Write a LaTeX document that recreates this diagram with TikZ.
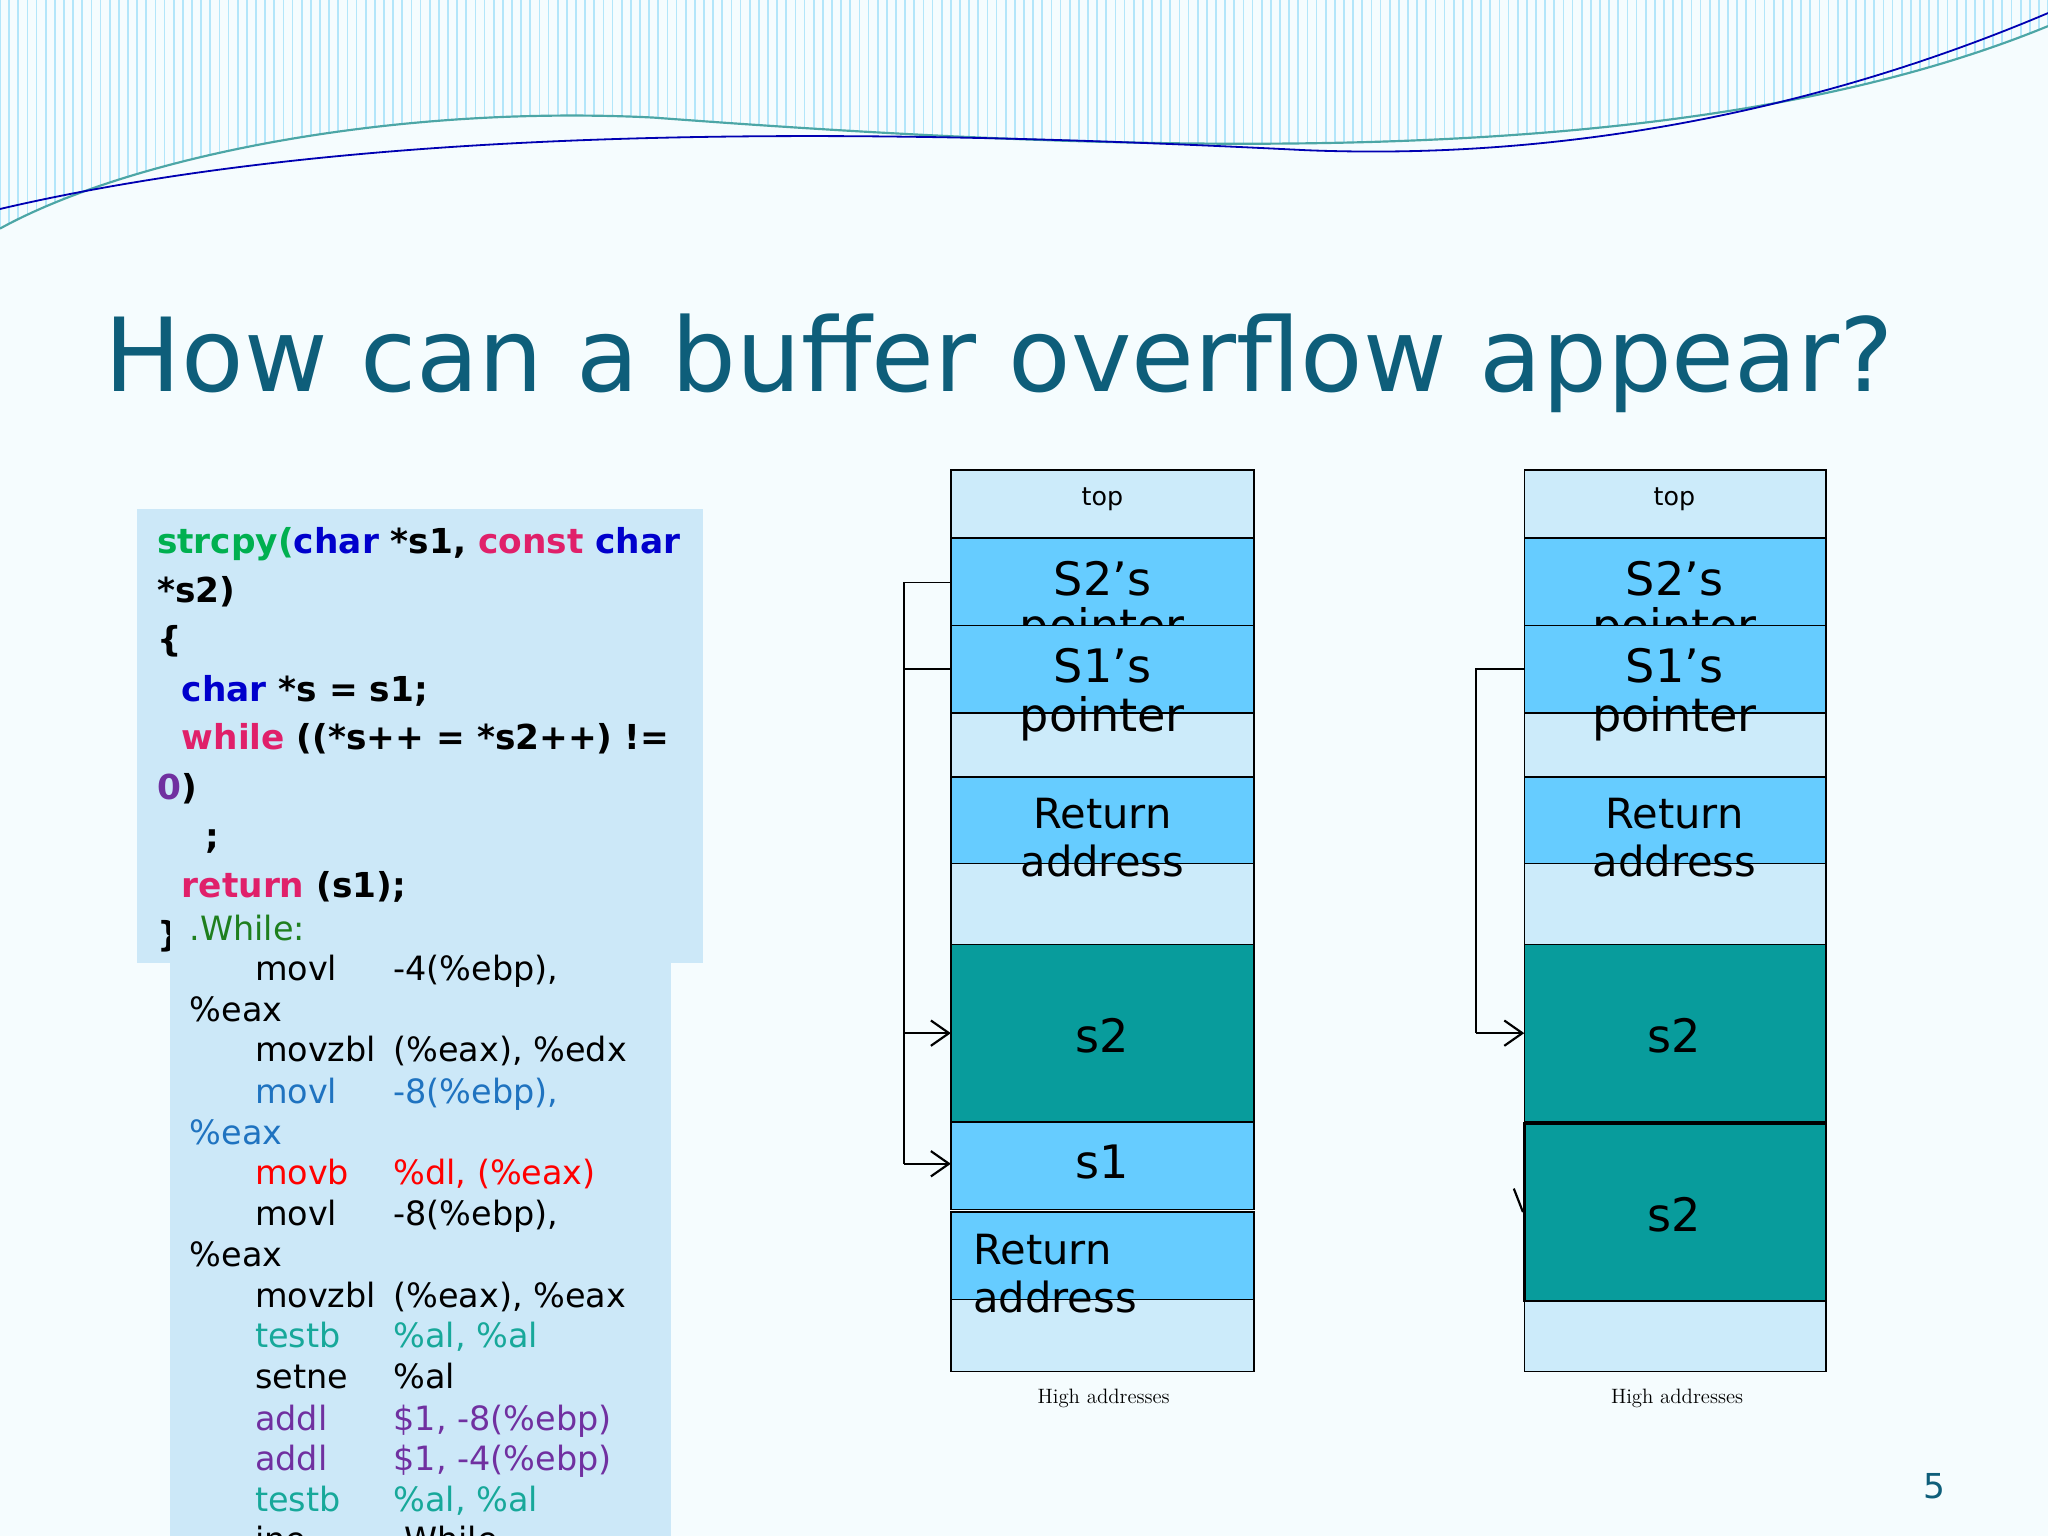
\documentclass[tikz,border=0pt]{standalone}
\usepackage{fontspec}
\setmainfont{DejaVu Sans}
\usetikzlibrary{arrows.meta}
\definecolor{ttl}{HTML}{0E5E7A}
\definecolor{lb}{HTML}{CCEBFA}
\definecolor{mb}{HTML}{66CCFF}
\definecolor{dk}{HTML}{089C9C}
\definecolor{cbox}{HTML}{CCE8F8}
\definecolor{cg}{HTML}{00B050}
\definecolor{cbl}{HTML}{0000CC}
\definecolor{cmg}{HTML}{E0206A}
\definecolor{cpu}{HTML}{7030A0}
\definecolor{cwg}{HTML}{1E7F1E}
\definecolor{cbb}{HTML}{1F73C0}
\definecolor{ctl}{HTML}{17A89A}
\tikzset{
 cl/.style={anchor=base west,inner sep=0,font=\fontsize{19pt}{19pt}\selectfont\bfseries},
 al/.style={anchor=base west,inner sep=0,font=\fontsize{18.5pt}{18pt}\selectfont},
 big/.style={inner sep=0,font=\fontsize{25.5pt}{25pt}\selectfont},
 mid/.style={inner sep=0,font=\fontsize{23pt}{23pt}\selectfont},
 cell/.style={draw=black,line width=0.8pt},
 ptr/.style={line width=1pt,-{Straight Barb[length=10pt,width=14pt,line width=1.2pt]}},
 hi/.style={inner sep=0,font=\fontfamily{lmr}\fontsize{11.5pt}{12pt}\selectfont}
}
\begin{document}
\begin{tikzpicture}[x=0.01in,y=-0.01in]
\useasboundingbox (0,0) rectangle (1568,1176);
\fill[white!96!cyan] (0,0) rectangle (1568,1176);
\begin{scope}
\clip (0,0) -- (1568,0) -- (1568,20) .. controls (1300,130) and (900,120) .. (500,90) .. controls (300,80) and (100,120) .. (0,175) -- cycle;
\foreach \i in {0,7,...,1568}{\draw[cyan!30!white,line width=1pt] (\i,0) -- (\i,180);}
\end{scope}
\draw[teal!70,line width=1.2pt] (0,175) .. controls (100,120) and (300,80) .. (500,90) .. controls (900,120) and (1300,130) .. (1568,20);
\draw[blue!70!black,line width=1pt] (0,160) .. controls (300,90) and (700,100) .. (1000,115) .. controls (1250,125) and (1450,60) .. (1568,10);
\node[anchor=base west,inner sep=0,text=ttl,font=\fontsize{56.5pt}{57pt}\selectfont] (title) at (80,300) {How can a buffer overflow appear?};
% code box 1
\fill[cbox] (105,390) rectangle (538,737);
\node[cl] (c1) at (120,424) {\textcolor{cg}{strcpy(}\textcolor{cbl}{char} *s1, \textcolor{cmg}{const} \textcolor{cbl}{char}};
\node[cl] (c2) at (120,461) {*s2)};
\node[cl] (c3) at (120,499) {\{};
\node[cl] (c4) at (139,537) {\textcolor{cbl}{char} *s = s1;};
\node[cl] (c5) at (139,574) {\textcolor{cmg}{while} ((*s++ = *s2++) !=};
\node[cl] (c6) at (120,612) {\textcolor{cpu}{0})};
\node[cl] (c7) at (157,650) {;};
\node[cl] (c8) at (139,687) {\textcolor{cmg}{return} (s1);};
\node[cl] (c9) at (120,725) {\}};
% code box 2
\fill[cbox] (130,737) rectangle (514,1176);
\fill[cbox] (130,700) rectangle (240,737);
\node[al,text=cwg] (a0) at (145,720) {.While:};
\foreach \y/\opa/\opb/\colr in {751/movl/{-4(\%ebp),}/black,813/movzbl/{(\%eax), \%edx}/black,845/movl/{-8(\%ebp),}/cbb,907/movb/{\%dl, (\%eax)}/red,938/movl/{-8(\%ebp),}/black,1001/movzbl/{(\%eax), \%eax}/black,1032/testb/{\%al, \%al}/ctl,1063/setne/{\%al}/black,1095/addl/{\$1, -8(\%ebp)}/cpu,1126/addl/{\$1, -4(\%ebp)}/cpu,1157/testb/{\%al, \%al}/ctl,1188/jne/{.While}/black}{
 \node[al,text=\colr] at (195,\y) {\opa};
 \node[al,text=\colr] at (301,\y) {\opb};
}
\node[al] (e1) at (145,782) {\%eax};
\node[al,text=cbb] (e2) at (145,876) {\%eax};
\node[al] (e3) at (145,970) {\%eax};
% stack 1
\def\xa{728}\def\xb{960}\def\xm{844}
\draw[cell,fill=lb] (\xa,360) rectangle (\xb,412);
\node[inner sep=0,font=\fontsize{14pt}{14pt}\selectfont] (t1) at (\xm,382) {top};
\draw[cell,fill=mb] (\xa,412) rectangle (\xb,479);
\node[big] (p21) at (\xm,443) {S2’s};
\node[big] at (\xm,482) {pointer};
\draw[cell,fill=lb] (\xa,546) rectangle (\xb,595);
\draw[cell,fill=mb] (\xa,479) rectangle (\xb,546);
\node[big] (p11) at (\xm,510) {S1’s};
\node[big] at (\xm,550) {pointer};
\draw[cell,fill=lb] (\xa,661) rectangle (\xb,723);
\draw[cell,fill=mb] (\xa,595) rectangle (\xb,661);
\node[mid] (r1) at (\xm,623) {Return};
\node[mid] at (\xm,659) {address};
\draw[cell,fill=dk] (\xa,723) rectangle (\xb,859);
\node[big] (s21) at (\xm,793) {s2};
\draw[cell,fill=mb] (\xa,859) rectangle (\xb,926);
\node[big] (s11) at (\xm,890) {s1};
\draw[cell,fill=lb] (\xa,995) rectangle (\xb,1050);
\draw[cell,fill=mb] (\xa,928) rectangle (\xb,995);
\node[mid,anchor=west] (r2) at (745,957) {Return};
\node[mid,anchor=west] at (745,993) {address};
\node[hi] (h1) at (845,1071) {High addresses};
\coordinate (a1) at (\xa,446); \coordinate (a1b) at (692,446);
\coordinate (a2) at (\xa,512); \coordinate (a2b) at (692,512);
\draw[line width=1pt] (a1) -- (a1b) -- (692,791);
\draw[ptr] (692,791) -- (\xa,791);
\draw[line width=1pt] (a2) -- (a2b) -- (692,891);
\draw[ptr] (692,891) -- (\xa,891);
% stack 2
\def\xa{1167}\def\xb{1398}\def\xm{1282}
\draw[cell,fill=lb] (\xa,360) rectangle (\xb,412);
\node[inner sep=0,font=\fontsize{14pt}{14pt}\selectfont] (t2) at (\xm,382) {top};
\draw[cell,fill=mb] (\xa,412) rectangle (\xb,479);
\node[big] (p22) at (\xm,443) {S2’s};
\node[big] at (\xm,482) {pointer};
\draw[cell,fill=lb] (\xa,546) rectangle (\xb,595);
\draw[cell,fill=mb] (\xa,479) rectangle (\xb,546);
\node[big] (p12) at (\xm,510) {S1’s};
\node[big] at (\xm,550) {pointer};
\draw[cell,fill=lb] (\xa,661) rectangle (\xb,723);
\draw[cell,fill=mb] (\xa,595) rectangle (\xb,661);
\node[mid] (r3) at (\xm,623) {Return};
\node[mid] at (\xm,659) {address};
\draw[cell,fill=dk] (\xa,723) rectangle (\xb,859);
\node[big] (s22) at (\xm,793) {s2};
\draw[cell,fill=dk,line width=1.5pt] (\xa,860) rectangle (\xb,996);
\node[big] (s23) at (\xm,930) {s2};
\draw[cell,fill=lb] (\xa,996) rectangle (\xb,1050);
\node[hi] (h2) at (1284,1071) {High addresses};
\draw[line width=1pt] (\xa,512) -- (1130,512) -- (1130,791);
\draw[ptr] (1130,791) -- (\xa,791);
\draw[line width=1.2pt] (1159,910) -- (1166,928);
\node[inner sep=0,text=ttl,font=\fontsize{19pt}{19pt}\selectfont] (pg) at (1481,1138) {5};
\end{tikzpicture}
\end{document}
